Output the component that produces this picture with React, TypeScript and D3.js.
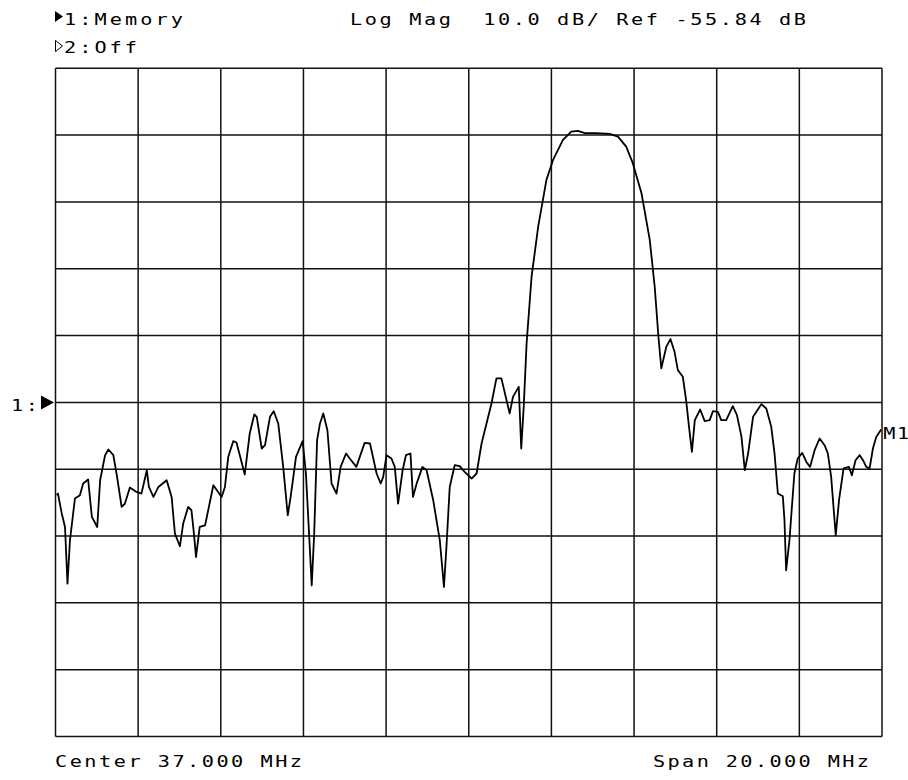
import React from 'react'
import { scaleLinear, line, range } from 'd3'

// trace: frequency (MHz) / log magnitude (dB)
const freqMHz = [
  27.03, 27.06, 27.15, 27.23, 27.29, 27.35, 27.47, 27.59, 27.67, 27.79,
  27.88, 28.01, 28.08, 28.20, 28.28, 28.40, 28.49, 28.60, 28.68, 28.80,
  28.96, 29.08, 29.21, 29.26, 29.37, 29.49, 29.69, 29.81, 29.89, 30.01,
  30.09, 30.21, 30.29, 30.35, 30.40, 30.49, 30.62, 30.82, 31.02, 31.10,
  31.18, 31.30, 31.38, 31.58, 31.70, 31.81, 31.87, 31.99, 32.07, 32.19,
  32.28, 32.39, 32.51, 32.62, 32.69, 32.82, 32.98, 33.06, 33.14, 33.20,
  33.26, 33.33, 33.40, 33.48, 33.58, 33.68, 33.80, 33.90, 34.03, 34.12,
  34.28, 34.48, 34.61, 34.77, 34.87, 34.93, 35.01, 35.13, 35.21, 35.29,
  35.40, 35.48, 35.59, 35.65, 35.74, 35.88, 35.98, 36.14, 36.30, 36.40,
  36.46, 36.54, 36.66, 36.78, 36.90, 37.07, 37.19, 37.31, 37.55, 37.67,
  37.79, 37.99, 38.07, 38.21, 38.23, 38.27, 38.33, 38.40, 38.52, 38.68,
  38.88, 39.04, 39.28, 39.48, 39.64, 39.81, 40.09, 40.41, 40.61, 40.81,
  40.97, 41.18, 41.38, 41.50, 41.59, 41.66, 41.78, 41.88, 41.98, 42.06,
  42.18, 42.26, 42.33, 42.40, 42.47, 42.60, 42.71, 42.83, 42.91, 43.03,
  43.11, 43.23, 43.39, 43.49, 43.60, 43.68, 43.76, 43.88, 44.08, 44.20,
  44.32, 44.40, 44.48, 44.60, 44.64, 44.68, 44.76, 44.88, 44.96, 45.07,
  45.17, 45.26, 45.37, 45.49, 45.61, 45.69, 45.77, 45.88, 45.96, 46.07,
  46.20, 46.27, 46.36, 46.46, 46.54, 46.62, 46.70, 46.78, 46.86, 46.98,
]

const magDb = [
  -69.73, -69.48, -72.43, -74.48, -82.96, -76.48, -70.23, -69.73, -67.98, -67.38,
  -72.98, -74.48, -67.49, -63.74, -62.89, -63.74, -66.99, -71.49, -70.98, -68.58,
  -69.24, -69.48, -65.99, -68.49, -69.99, -68.49, -67.49, -69.99, -75.47, -77.37,
  -73.97, -71.49, -71.98, -75.47, -78.98, -74.48, -74.23, -68.24, -69.99, -68.49,
  -64.00, -61.64, -61.84, -66.63, -60.49, -57.64, -58.00, -62.74, -62.24, -58.00,
  -57.15, -58.99, -65.49, -72.73, -69.99, -64.00, -61.64, -66.48, -75.98, -83.22,
  -75.47, -61.49, -58.99, -57.49, -60.00, -67.98, -69.48, -65.49, -63.49, -64.24,
  -65.49, -61.90, -61.99, -66.48, -67.98, -66.99, -63.74, -64.24, -65.49, -70.98,
  -65.99, -63.74, -63.49, -69.99, -67.98, -65.49, -65.99, -70.48, -76.48, -83.47,
  -77.48, -68.49, -65.24, -65.39, -66.24, -67.23, -66.48, -61.99, -56.00, -52.25,
  -52.25, -57.49, -55.01, -53.51, -56.51, -62.74, -56.51, -47.01, -37.03, -29.54,
  -22.54, -19.55, -16.55, -15.31, -15.20, -15.55, -15.55, -15.65, -16.06, -17.56,
  -20.04, -24.54, -31.53, -38.53, -46.02, -50.75, -47.52, -46.36, -48.27, -51.01,
  -52.01, -55.50, -59.50, -63.25, -58.50, -56.90, -58.65, -58.50, -57.15, -57.25,
  -58.50, -58.50, -56.40, -57.75, -61.00, -65.99, -63.49, -58.00, -56.10, -56.75,
  -59.50, -63.49, -69.48, -69.88, -73.48, -80.97, -76.48, -66.48, -64.24, -63.40,
  -64.75, -65.49, -62.99, -61.24, -62.24, -63.49, -66.99, -75.73, -70.48, -65.73,
  -65.49, -66.74, -64.49, -63.74, -64.49, -65.49, -65.73, -62.74, -61.00, -59.89,
]

const refLevel = -55.84
const dbPerDiv = 10
const centerMHz = 37
const spanMHz = 20
const divisions = 10

const W = 908
const H = 780
const left = 55.5
const right = 882
const top = 68.3
const bottom = 736.5

const font = "'DejaVu Sans Mono', monospace"
const sx = 1.35 // the analyzer's plotter font is wide, stretch the glyphs

// text stretched horizontally, fitted to the width it takes on screen
const Label = ({ x, y, w, children }: { x: number; y: number; w: number; children: string }) => (
  <text
    transform={`scale(${sx},1)`}
    x={x / sx}
    y={y}
    textLength={w / sx}
    lengthAdjust="spacing"
    fontFamily={font}
    fontSize={15}
    style={{ whiteSpace: 'pre', fontVariantLigatures: 'none' }}
  >
    {children}
  </text>
)

export default function App() {
  const x = scaleLinear()
    .domain([centerMHz - spanMHz / 2, centerMHz + spanMHz / 2])
    .range([left, right])
  const y = scaleLinear()
    .domain([refLevel - dbPerDiv * divisions / 2, refLevel + dbPerDiv * divisions / 2])
    .range([bottom, top])

  const xGrid = range(divisions + 1).map(i => centerMHz - spanMHz / 2 + (i * spanMHz) / divisions)
  const yGrid = range(divisions + 1).map(i => refLevel - (dbPerDiv * divisions) / 2 + i * dbPerDiv)

  const trace = line<number>()
    .x((d, i) => x(freqMHz[i]))
    .y(d => y(d))

  const refY = y(refLevel)
  const lastX = x(freqMHz[freqMHz.length - 1])
  const lastY = y(magDb[magDb.length - 1])

  return (
    <svg width={W} height={H} style={{ position: 'absolute', left: 0, top: 0, background: 'white' }}>
      {/* header */}
      <path d="M55,11 L63,16.5 L55,22 Z" fill="black" />
      <Label x={64} y={25} w={119}>1:Memory</Label>
      <path d="M55.5,40.5 L62.5,46 L55.5,51.5 Z" fill="none" stroke="black" strokeWidth={1} />
      <Label x={64} y={53} w={73}>2:Off</Label>
      <Label x={350} y={25} w={456}>Log Mag  10.0 dB/ Ref -55.84 dB</Label>

      {/* graticule */}
      <g stroke="#111" strokeWidth={1.5}>
        {xGrid.map(f => (
          <line key={'v' + f} x1={x(f)} x2={x(f)} y1={top} y2={bottom} />
        ))}
        {yGrid.map(d => (
          <line key={'h' + d} x1={left} x2={right} y1={y(d)} y2={y(d)} />
        ))}
      </g>

      {/* reference position marker */}
      <Label x={11} y={411} w={27}>1:</Label>
      <path d={`M41,${refY - 7} L54,${refY} L41,${refY + 7} Z`} fill="black" />

      {/* trace */}
      <path d={trace(magDb) || ''} fill="none" stroke="black" strokeWidth={1.8} strokeLinejoin="round" />

      {/* marker label */}
      <Label x={lastX + 2} y={lastY + 10} w={26}>M1</Label>

      {/* footer */}
      <Label x={55} y={767} w={247}>Center 37.000 MHz</Label>
      <Label x={653} y={767} w={216}>Span 20.000 MHz</Label>
    </svg>
  )
}
